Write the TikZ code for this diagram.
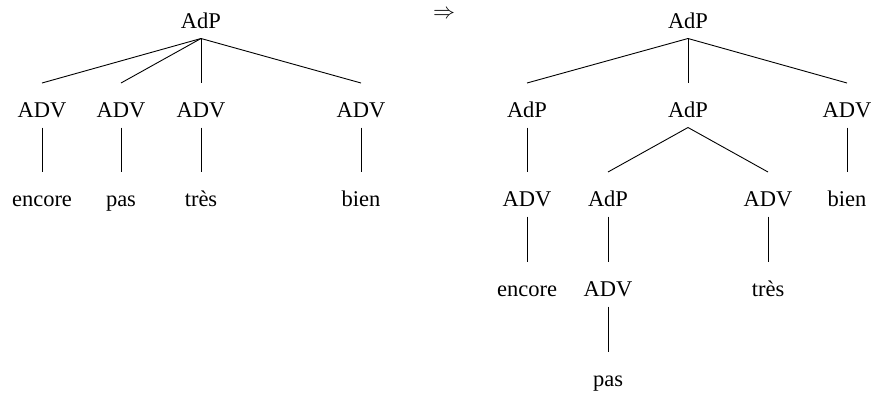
\documentclass[tikz,border=0pt]{standalone}
\usepackage{fontspec}
\setmainfont{Liberation Serif}
\begin{document}
\begin{tikzpicture}[x=1pt,y=-1pt,
  lab/.style={font=\fontsize{22.5}{27}\selectfont, anchor=base, inner sep=0pt},
  edge/.style={line width=0.9pt, black}]
\useasboundingbox (0,0) rectangle (875,394);
\newcommand\tedge[2]{\draw[edge] ([yshift=-10.5pt]#1.base) -- ([yshift=34pt]#2.base);}
% left tree
\node[lab] (L) at (201,28) {AdP};
\node[lab] (L1) at (42,117) {ADV};
\node[lab] (L2) at (121,117) {ADV};
\node[lab] (L3) at (201,117) {ADV};
\node[lab] (L4) at (361,117) {ADV};
\node[lab] (W1) at (42,206) {encore};
\node[lab] (W2) at (121,206) {pas};
\node[lab] (W3) at (201,206) {très};
\node[lab] (W4) at (361,206) {bien};
\foreach \c in {L1,L2,L3,L4} {\tedge{L}{\c}}
\foreach \a/\b in {L1/W1,L2/W2,L3/W3,L4/W4} {\tedge{\a}{\b}}
% arrow
\node[inner sep=0pt, scale=2.2] (arr) at (444,14.5) {$\Rightarrow$};
% right tree
\node[lab] (R) at (688,28) {AdP};
\node[lab] (R1) at (527,117) {AdP};
\node[lab] (R2) at (688,117) {AdP};
\node[lab] (R3) at (847,117) {ADV};
\node[lab] (R11) at (527,206) {ADV};
\node[lab] (R21) at (608,206) {AdP};
\node[lab] (R22) at (768,206) {ADV};
\node[lab] (R31) at (847,206) {bien};
\node[lab] (R111) at (527,296) {encore};
\node[lab] (R211) at (608,296) {ADV};
\node[lab] (R221) at (768,296) {très};
\node[lab] (R2111) at (608,386) {pas};
\foreach \a/\b in {R/R1,R/R2,R/R3,R2/R21,R2/R22,R1/R11,R3/R31,R11/R111,R21/R211,R22/R221,R211/R2111} {\tedge{\a}{\b}}
\end{tikzpicture}
\end{document}
